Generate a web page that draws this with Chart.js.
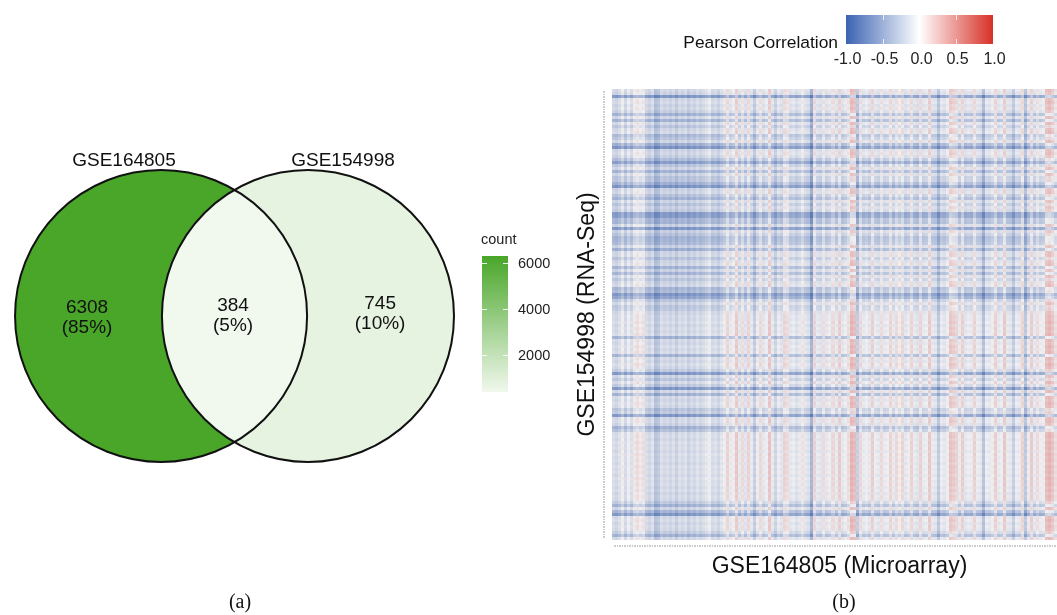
<!DOCTYPE html>
<html><head><meta charset="utf-8">
<script src="https://cdn.jsdelivr.net/npm/chart.js@4.4.1/dist/chart.umd.min.js"></script>
<style>
html,body{margin:0;padding:0;background:#fff;width:1057px;height:615px;overflow:hidden}
#venn{position:absolute;left:0;top:0;width:560px;height:615px}
#heat{position:absolute;left:560px;top:0;width:497px;height:615px}
</style></head><body>
<div id="venn"><canvas id="cv" width="560" height="615"></canvas></div>
<div id="heat"><canvas id="ch" width="497" height="615"></canvas></div>
<script>
// ---------------- DATA ----------------
const setNames = ['GSE164805', 'GSE154998'];
const regionNames = ['GSE164805 only', 'GSE164805 & GSE154998', 'GSE154998 only'];
const regionCounts = [6308, 384, 745];
const countTicks = [2000, 4000, 6000];
const corrTicks = [-1.0, -0.5, 0.0, 0.5, 1.0];
const xAxisTitle = 'GSE164805 (Microarray)';
const yAxisTitle = 'GSE154998 (RNA-Seq)';
const corrTitle = 'Pearson Correlation';
const panelLabels = ['(a)', '(b)'];

// row (RNA-Seq gene) correlation offsets, top to bottom
const rowVals = [
 -0.20,-0.25,-0.74,-0.22,-0.18,-0.25,-0.20,-0.28,-0.52,-0.22,
 -0.52,-0.20,-0.36,-0.22,-0.18,-0.46,-0.36,-0.22,-0.56,-0.78,
 -0.24,-0.20,-0.27,-0.44,-0.70,-0.36,-0.22,-0.52,-0.24,-0.38,
 -0.36,-0.54,-0.78,-0.26,-0.22,-0.38,-0.52,-0.24,-0.38,-0.25,
 -0.32,-0.74,-0.72,-0.50,-0.52,-0.26,-0.76,-0.28,-0.38,-0.52,
 -0.50,-0.46,-0.26,-0.56,-0.24,-0.22,-0.38,-0.24,-0.20,-0.50,
 -0.26,-0.50,-0.22,-0.36,-0.24,-0.20,-0.50,-0.44,-0.76,-0.64,
 -0.36,-0.22,-0.35,-0.32,-0.22,-0.18,-0.20,-0.15,-0.22,-0.16,
 -0.20,-0.15,-0.52,-0.18,-0.22,-0.15,-0.20,-0.16,-0.50,-0.18,
 -0.22,-0.15,-0.20,-0.32,-0.74,-0.22,-0.36,-0.18,-0.32,-0.74,
 -0.20,-0.52,-0.18,-0.22,-0.16,-0.20,-0.38,-0.32,-0.74,-0.20,
 -0.18,-0.24,-0.52,-0.40,-0.18,-0.15,-0.20,-0.14,-0.18,-0.15,
 -0.20,-0.14,-0.18,-0.15,-0.20,-0.14,-0.18,-0.15,-0.20,-0.14,
 -0.18,-0.15,-0.20,-0.16,-0.22,-0.17,-0.20,-0.32,-0.52,-0.22,
 -0.50,-0.74,-0.20,-0.16,-0.22,-0.17,-0.20,-0.30,-0.52,-0.20
];
// column (Microarray gene) correlation offsets, left to right
const colVals = [
  0.02,-0.03, 0.05, 0.20, 0.00, 0.18, 0.04, 0.24, 0.30, 0.22,
  0.28, 0.02,-0.04, 0.06,-0.20,-0.15, 0.04,-0.03, 0.02,-0.05,
  0.03,-0.10, 0.04,-0.02, 0.05,-0.08, 0.02,-0.03, 0.06,-0.02,
  0.04, 0.10, 0.18, 0.00, 0.05,-0.04, 0.08, 0.15, 0.35, 0.12,
  0.20, 0.42, 0.10, 0.30, 0.08, 0.35, 0.12,-0.10, 0.15, 0.32,
  0.10, 0.18, 0.45, 0.12,-0.05, 0.15, 0.08, 0.35, 0.30, 0.10,
  0.14, 0.06, 0.12, 0.25, 0.10, 0.05,-0.30, 0.35, 0.12, 0.08,
  0.30, 0.10, 0.15, 0.32, 0.12, 0.40, 0.10, 0.16, 0.30, 0.55,
  0.50,-0.10, 0.32, 0.12, 0.18, 0.10, 0.38, 0.14, 0.10, 0.30,
  0.12, 0.15, 0.35, 0.12, 0.32, 0.20, 0.34, 0.10, 0.15, 0.35,
  0.12, 0.08, 0.36, 0.12, 0.16, 0.42, 0.12, 0.10,-0.15, 0.14,
  0.10, 0.20, 0.45, 0.40, 0.35, 0.12, 0.38, 0.10, 0.15, 0.12,
  0.36, 0.14, 0.10,-0.20, 0.15, 0.12, 0.20, 0.38, 0.12, 0.16,
  0.42, 0.12, 0.10,-0.10, 0.15, 0.12, 0.36,-0.15, 0.14, 0.40,
  0.12, 0.30, 0.15, 0.20, 0.50, 0.55, 0.45, 0.30
];

// ---------------- COLOURS ----------------
const FONT = "'Liberation Sans', Arial, Helvetica, sans-serif";
const greenLow = [241, 248, 237], greenHigh = [73, 166, 41];
const corrLow = [59, 99, 178], corrMid = [255, 255, 255], corrHigh = [215, 48, 39];
const heatBack = 'rgb(192,192,202)';
const mix = (a, b, t) => a.map((v, i) => Math.round(v + (b[i] - v) * t));
const rgb = c => `rgb(${c[0]},${c[1]},${c[2]})`;
const cMin = Math.min(...regionCounts), cMax = Math.max(...regionCounts);
function countColor(n) { return rgb(mix(greenLow, greenHigh, (n - cMin) / (cMax - cMin))); }
function corrColor(v) {
  v = Math.max(-1, Math.min(1, v));
  return v < 0 ? rgb(mix(corrMid, corrLow, -v)) : rgb(mix(corrMid, corrHigh, v));
}

// ---------------- VENN (panel a) ----------------
const vennPlugin = {
  id: 'vennDraw',
  afterDatasetsDraw(chart) {
    const { ctx, scales: { x, y } } = chart;
    const pts = chart.data.datasets[0].data;
    const P = p => [x.getPixelForValue(p.x), y.getPixelForValue(p.y)];
    const r = x.getPixelForValue(1) - x.getPixelForValue(0);
    const [c1, c2] = pts.map(P);
    const circ = c => { ctx.beginPath(); ctx.arc(c[0], c[1], r, 0, Math.PI * 2); };
    ctx.save();
    ctx.fillStyle = countColor(regionCounts[0]); circ(c1); ctx.fill();
    ctx.fillStyle = countColor(regionCounts[2]); circ(c2); ctx.fill();
    ctx.save(); circ(c1); ctx.clip();
    ctx.fillStyle = countColor(regionCounts[1]); circ(c2); ctx.fill();
    ctx.restore();
    ctx.lineWidth = 2; ctx.strokeStyle = '#111';
    circ(c1); ctx.stroke(); circ(c2); ctx.stroke();

    // text
    ctx.fillStyle = '#111'; ctx.textAlign = 'center'; ctx.textBaseline = 'middle';
    ctx.font = `19px ${FONT}`;
    const opt = chart.options.plugins.vennDraw;
    setNames.forEach((s, i) => {
      const [px, py] = P(opt.setLabelPos[i]);
      ctx.fillText(s, px, py);
    });
    const total = regionCounts.reduce((a, b) => a + b, 0);
    regionCounts.forEach((n, i) => {
      const [px, py] = P(opt.regionLabelPos[i]);
      ctx.fillText(String(n), px, py - 10);
      ctx.fillText('(' + Math.round(n / total * 100) + '%)', px, py + 10);
    });

    // count colour bar
    const L = opt.barBox;
    const yOf = n => L.bottom - (n - cMin) / (cMax - cMin) * (L.bottom - L.top);
    const g = ctx.createLinearGradient(0, L.bottom, 0, L.top);
    g.addColorStop(0, rgb(greenLow)); g.addColorStop(1, rgb(greenHigh));
    ctx.fillStyle = g; ctx.fillRect(L.left, L.top, L.right - L.left, L.bottom - L.top);
    ctx.strokeStyle = 'rgba(255,255,255,0.9)'; ctx.lineWidth = 1;
    ctx.textAlign = 'left'; ctx.font = `14.5px ${FONT}`; ctx.fillStyle = '#222';
    countTicks.forEach(t => {
      const ty = Math.round(yOf(t)) + 0.5;
      ctx.beginPath(); ctx.moveTo(L.left, ty); ctx.lineTo(L.left + 5, ty);
      ctx.moveTo(L.right - 5, ty); ctx.lineTo(L.right, ty); ctx.stroke();
      ctx.fillText(String(t), L.right + 10, ty);
    });
    ctx.fillText('count', L.left - 1, L.top - 16);

    // panel label
    ctx.textAlign = 'center'; ctx.font = `20px 'Liberation Serif', 'Times New Roman', serif`;
    ctx.fillStyle = '#111';
    ctx.fillText(panelLabels[0], 240, 603);
    ctx.restore();
  }
};

new Chart(document.getElementById('cv'), {
  type: 'scatter',
  data: { datasets: [{ label: 'sets', data: [{ x: -0.503, y: 0 }, { x: 0.503, y: 0 }], pointRadius: 0 }] },
  options: {
    responsive: false, animation: false, devicePixelRatio: 1,
    layout: { padding: 0 },
    scales: {
      x: { type: 'linear', display: false, min: -1.606, max: 2.229 },
      y: { type: 'linear', display: false, min: -2.048, max: 2.164 }
    },
    plugins: {
      legend: { display: false }, tooltip: { enabled: false },
      vennDraw: {
        setLabelPos: [{ x: -0.757, y: 1.062 }, { x: 0.743, y: 1.062 }],
        regionLabelPos: [{ x: -1.01, y: -0.012 }, { x: -0.01, y: 0.0 }, { x: 0.997, y: 0.016 }],
        barBox: { left: 482, right: 508, top: 256, bottom: 392 }
      }
    }
  },
  plugins: [vennPlugin]
});

// ---------------- HEATMAP (panel b) ----------------
const heatPlugin = {
  id: 'heatDraw',
  beforeDatasetsDraw(chart) {
    const { ctx, scales: { x, y }, chartArea: A } = chart;
    ctx.save();
    ctx.fillStyle = heatBack;
    ctx.fillRect(A.left, A.top, A.right - A.left, A.bottom - A.top);
    ctx.globalAlpha = 0.74;
    for (let i = 0; i < rowVals.length; i++) {
      const y0 = Math.round(y.getPixelForValue(i)), y1 = Math.round(y.getPixelForValue(i + 1));
      for (let j = 0; j < colVals.length; j++) {
        const x0 = Math.round(x.getPixelForValue(j)), x1 = Math.round(x.getPixelForValue(j + 1));
        ctx.fillStyle = corrColor(rowVals[i] + colVals[j]);
        ctx.fillRect(x0, Math.min(y0, y1), x1 - x0, Math.abs(y1 - y0));
      }
    }
    ctx.globalAlpha = 1;
    // tiny gene-name tick texture
    ctx.strokeStyle = 'rgba(160,160,160,0.55)'; ctx.lineWidth = 2; ctx.setLineDash([2, 1, 1, 1]);
    ctx.beginPath(); ctx.moveTo(A.left - 8, A.top + 2); ctx.lineTo(A.left - 8, A.bottom - 2); ctx.stroke();
    ctx.beginPath(); ctx.moveTo(A.left + 2, A.bottom + 6); ctx.lineTo(A.right, A.bottom + 6); ctx.stroke();
    ctx.setLineDash([]);

    // axis titles
    ctx.fillStyle = '#111'; ctx.textAlign = 'center'; ctx.textBaseline = 'middle';
    ctx.font = `23px ${FONT}`;
    ctx.fillText(xAxisTitle, (A.left + A.right) / 2 + 5, 567);
    ctx.save(); ctx.translate(28, (A.top + A.bottom) / 2); ctx.rotate(-Math.PI / 2);
    ctx.fillText(yAxisTitle, 0, 0); ctx.restore();

    // correlation colour bar
    const B = chart.options.plugins.heatDraw.barBox;
    const g = ctx.createLinearGradient(B.left, 0, B.right, 0);
    g.addColorStop(0, rgb(corrLow)); g.addColorStop(0.5, rgb(corrMid)); g.addColorStop(1, rgb(corrHigh));
    ctx.fillStyle = g; ctx.fillRect(B.left, B.top, B.right - B.left, B.bottom - B.top);
    const xOf = v => B.left + (v + 1) / 2 * (B.right - B.left);
    ctx.strokeStyle = 'rgba(255,255,255,0.8)'; ctx.lineWidth = 1;
    ctx.font = `16px ${FONT}`; ctx.fillStyle = '#222';
    corrTicks.forEach(t => {
      const tx = Math.round(xOf(t)) + 0.5;
      if (t > -1 && t < 1) {
        ctx.beginPath(); ctx.moveTo(tx, B.top); ctx.lineTo(tx, B.top + 5);
        ctx.moveTo(tx, B.bottom - 5); ctx.lineTo(tx, B.bottom); ctx.stroke();
      }
      ctx.fillText(t.toFixed(1), tx + 1, 60);
    });
    ctx.textAlign = 'right'; ctx.font = `17.4px ${FONT}`; ctx.fillStyle = '#111';
    ctx.fillText(corrTitle, B.left - 8, 43);

    // panel label
    ctx.textAlign = 'center'; ctx.font = `20px 'Liberation Serif', 'Times New Roman', serif`;
    ctx.fillText(panelLabels[1], 284, 603);
    ctx.restore();
  }
};

new Chart(document.getElementById('ch'), {
  type: 'scatter',
  data: { datasets: [{ label: 'corr', data: [], pointRadius: 0 }] },
  options: {
    responsive: false, animation: false, devicePixelRatio: 1,
    layout: { padding: { left: 52, right: 0, top: 89, bottom: 75 } },
    scales: {
      x: { type: 'linear', display: false, min: 0, max: colVals.length },
      y: { type: 'linear', display: false, min: 0, max: rowVals.length, reverse: true }
    },
    plugins: {
      legend: { display: false }, tooltip: { enabled: false },
      heatDraw: { barBox: { left: 286, right: 433, top: 15, bottom: 44 } }
    }
  },
  plugins: [heatPlugin]
});
</script>
</body></html>
